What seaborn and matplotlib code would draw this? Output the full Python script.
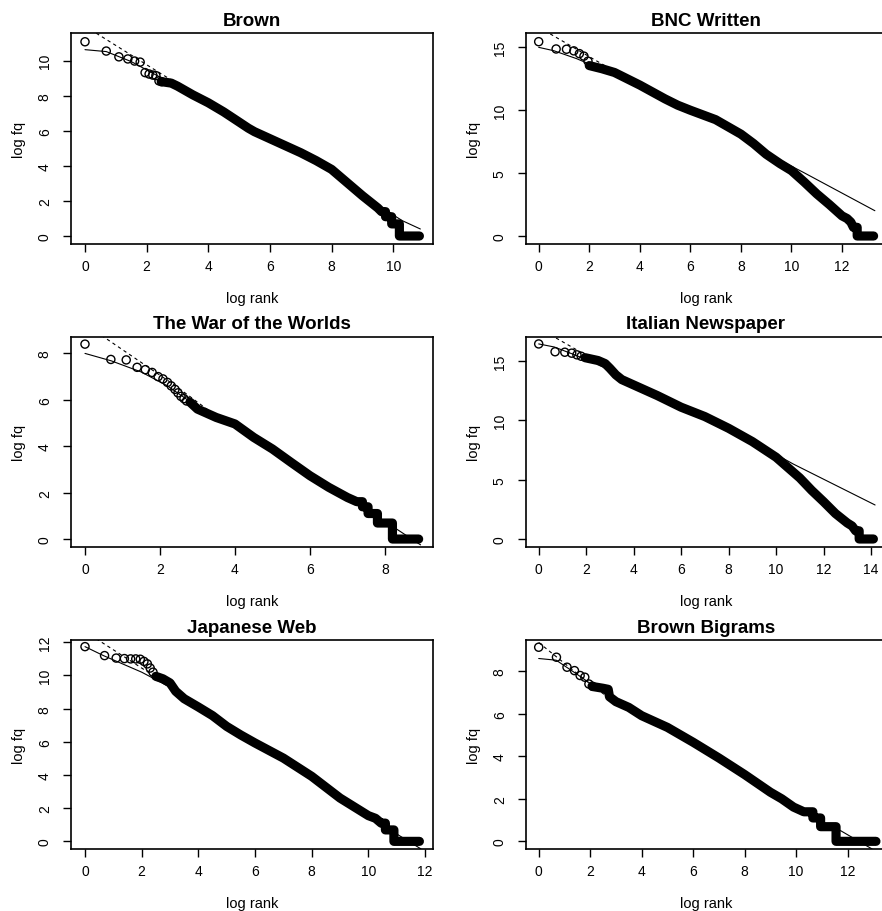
import matplotlib
matplotlib.use("Agg")
import matplotlib.pyplot as plt
import pandas as pd
import seaborn as sns

# ---------------- data (natural log rank vs natural log frequency) -------------
titles = ["Brown", "BNC Written", "The War of the Worlds",
          "Italian Newspaper", "Japanese Web", "Brown Bigrams"]

# Brown
brown_top_x = [0, 0.69, 1.10, 1.39, 1.61, 1.79, 1.95, 2.08, 2.20, 2.30, 2.40, 2.48]
brown_top_y = [11.08, 10.55, 10.22, 10.10, 9.98, 9.92, 9.32, 9.24, 9.18, 9.15, 8.85, 8.80]
brown_band_x = [2.5, 2.8, 3.0, 3.5, 4.0, 4.5, 5.0, 5.3, 5.5, 6.0, 6.5, 7.0, 7.5, 8.0, 8.5, 9.0,
                9.5, 9.62, 9.75, 9.75, 9.95, 9.95, 10.2, 10.2, 10.85]
brown_band_y = [8.8, 8.72, 8.55, 8.05, 7.6, 7.08, 6.5, 6.15, 5.95, 5.55, 5.15, 4.75, 4.3, 3.8, 3.05, 2.3,
                1.6, 1.39, 1.39, 1.10, 1.10, 0.69, 0.69, 0, 0]
brown_solid_x = [0, 0.69, 1.5, 2.5, 4, 6, 8, 9.5, 10.3, 10.88]
brown_solid_y = [10.63, 10.52, 9.95, 9.0, 7.6, 5.55, 3.75, 1.75, 0.87, 0.40]
brown_dash_x = [0, 2.3, 4.0]
brown_dash_y = [11.97, 9.44, 7.6]

# BNC Written
bnc_top_x = [0, 0.69, 1.10, 1.39, 1.61, 1.79, 1.95]
bnc_top_y = [15.45, 14.87, 14.85, 14.72, 14.5, 14.3, 13.9]
bnc_band_x = [2.0, 2.5, 3.0, 3.5, 4.0, 4.5, 5.0, 5.5, 6.0, 7.0, 8.0, 8.5, 9.0, 9.55, 10.0, 10.5,
              11.0, 11.5, 12.0, 12.2, 12.35, 12.45, 12.6, 12.6, 13.25]
bnc_band_y = [13.55, 13.3, 13.0, 12.5, 12.0, 11.45, 10.9, 10.4, 10.0, 9.25, 8.1, 7.35, 6.5, 5.75, 5.2, 4.3,
              3.35, 2.5, 1.6, 1.39, 1.10, 0.69, 0.69, 0, 0]
bnc_solid_x = [0, 0.6, 1.5, 2.5, 4, 6, 8, 9, 10.47, 13.3]
bnc_solid_y = [15.0, 14.73, 14.1, 13.25, 11.95, 10.0, 7.95, 6.6, 5.06, 2.01]
bnc_dash_x = [0, 2.6, 4.0]
bnc_dash_y = [16.6, 13.56, 12.0]

# The War of the Worlds
wotw_top_x = [0, 0.69, 1.10, 1.39, 1.61, 1.79, 1.95, 2.08, 2.20, 2.30, 2.40, 2.48, 2.56, 2.64, 2.71]
wotw_top_y = [8.4, 7.74, 7.72, 7.4, 7.3, 7.18, 7.0, 6.9, 6.75, 6.6, 6.45, 6.3, 6.15, 6.05, 5.95]
wotw_band_x = [2.8, 3.0, 3.5, 4.0, 4.5, 5.0, 5.5, 6.0, 6.5, 7.0, 7.25, 7.4, 7.4, 7.55, 7.55, 7.8,
               7.8, 8.2, 8.2, 8.9]
wotw_band_y = [5.9, 5.6, 5.24, 4.96, 4.38, 3.88, 3.3, 2.73, 2.23, 1.79, 1.61, 1.61, 1.39, 1.39, 1.10, 1.10,
               0.69, 0.69, 0, 0]
wotw_solid_x = [0, 0.7, 1.5, 2.2, 3, 4, 5, 6, 7, 8.18, 8.95]
wotw_solid_y = [8.0, 7.68, 7.2, 6.6, 5.7, 4.9, 3.9, 2.75, 1.75, 0.57, -0.25]
wotw_dash_x = [0, 2.4, 3.5]
wotw_dash_y = [9.26, 6.62, 5.3]

# Italian Newspaper
ital_top_x = [0, 0.69, 1.10, 1.39, 1.61, 1.79]
ital_top_y = [16.46, 15.8, 15.76, 15.68, 15.54, 15.42]
ital_band_x = [1.95, 2.5, 2.8, 3.0, 3.25, 3.5, 4.0, 5.0, 6.0, 7.0, 8.0, 9.0, 10.0, 11.0, 11.5, 12.0,
               12.5, 13.0, 13.2, 13.35, 13.5, 13.5, 14.1]
ital_band_y = [15.3, 15.06, 14.8, 14.4, 13.85, 13.45, 13.0, 12.1, 11.12, 10.33, 9.34, 8.22, 6.9, 5.15,
               4.1, 3.15, 2.15, 1.35, 1.10, 0.69, 0.69, 0, 0]
ital_solid_x = [0, 0.66, 1.5, 2.5, 3.5, 5, 7, 9, 10.72, 14.17]
ital_solid_y = [16.46, 16.2, 15.55, 14.75, 13.6, 12.1, 10.2, 8.25, 6.33, 2.87]
ital_dash_x = [0, 2.2, 3.0]
ital_dash_y = [17.8, 15.27, 14.4]

# Japanese Web
jap_top_x = [0, 0.69, 1.10, 1.39, 1.61, 1.79, 1.95, 2.08, 2.20, 2.30, 2.40]
jap_top_y = [11.74, 11.2, 11.05, 11.02, 11.0, 11.0, 10.98, 10.85, 10.7, 10.45, 10.2]
jap_band_x = [2.5, 2.75, 3.0, 3.2, 3.5, 4.0, 4.5, 5.0, 5.5, 6.0, 7.0, 8.0, 9.0, 10.0, 10.25, 10.45,
              10.6, 10.6, 10.9, 10.9, 11.8]
jap_band_y = [9.95, 9.8, 9.55, 9.05, 8.6, 8.1, 7.58, 6.93, 6.41, 5.93, 5.02, 3.92, 2.61, 1.55, 1.39, 1.10,
              1.10, 0.69, 0.69, 0, 0]
jap_solid_x = [0, 0.65, 2.0, 3.0, 4, 6, 8, 10, 11.1, 11.85]
jap_solid_y = [11.74, 11.2, 10.2, 9.3, 8.1, 5.95, 3.75, 1.55, 0.34, -0.45]
jap_dash_x = [0, 2.5, 3.5]
jap_dash_y = [12.65, 9.9, 8.6]

# Brown Bigrams
big_top_x = [0, 0.69, 1.10, 1.39, 1.61, 1.79, 1.95, 2.08]
big_top_y = [9.13, 8.66, 8.19, 8.03, 7.8, 7.72, 7.4, 7.3]
big_band_x = [2.1, 2.5, 2.7, 2.75, 3.0, 3.5, 4.0, 5.0, 6.0, 7.0, 8.0, 9.0, 9.44, 9.9, 10.3, 10.65,
              10.65, 10.95, 10.95, 11.55, 11.55, 13.1]
big_band_y = [7.28, 7.2, 7.15, 6.8, 6.57, 6.3, 5.91, 5.36, 4.66, 3.92, 3.14, 2.31, 2.0, 1.61, 1.39, 1.39,
              1.10, 1.10, 0.69, 0.69, 0, 0]
big_solid_x = [0, 0.68, 1.5, 2.5, 4, 6, 8, 10, 11.73, 12.95]
big_solid_y = [8.6, 8.52, 7.85, 7.0, 5.85, 4.6, 3.1, 1.5, 0.5, -0.36]
big_dash_x = [0, 2.0, 3.0]
big_dash_y = [9.35, 7.4, 6.5]

# tick values
brown_xticks, brown_yticks = [0, 2, 4, 6, 8, 10], [0, 2, 4, 6, 8, 10]
bnc_xticks, bnc_yticks = [0, 2, 4, 6, 8, 10, 12], [0, 5, 10, 15]
wotw_xticks, wotw_yticks = [0, 2, 4, 6, 8], [0, 2, 4, 6, 8]
ital_xticks, ital_yticks = [0, 2, 4, 6, 8, 10, 12, 14], [0, 5, 10, 15]
jap_xticks, jap_yticks = [0, 2, 4, 6, 8, 10, 12], [0, 2, 4, 6, 8, 10, 12]
big_xticks, big_yticks = [0, 2, 4, 6, 8, 10, 12], [0, 2, 4, 6, 8]

panels = [
    (brown_top_x, brown_top_y, brown_band_x, brown_band_y, brown_solid_x, brown_solid_y,
     brown_dash_x, brown_dash_y, brown_xticks, brown_yticks),
    (bnc_top_x, bnc_top_y, bnc_band_x, bnc_band_y, bnc_solid_x, bnc_solid_y,
     bnc_dash_x, bnc_dash_y, bnc_xticks, bnc_yticks),
    (wotw_top_x, wotw_top_y, wotw_band_x, wotw_band_y, wotw_solid_x, wotw_solid_y,
     wotw_dash_x, wotw_dash_y, wotw_xticks, wotw_yticks),
    (ital_top_x, ital_top_y, ital_band_x, ital_band_y, ital_solid_x, ital_solid_y,
     ital_dash_x, ital_dash_y, ital_xticks, ital_yticks),
    (jap_top_x, jap_top_y, jap_band_x, jap_band_y, jap_solid_x, jap_solid_y,
     jap_dash_x, jap_dash_y, jap_xticks, jap_yticks),
    (big_top_x, big_top_y, big_band_x, big_band_y, big_solid_x, big_solid_y,
     big_dash_x, big_dash_y, big_xticks, big_yticks),
]

# ---------------- layout (pixels) ----------------
W, H = 882, 912
boxes = [(71, 34, 433.3, 245), (526, 34, 886, 245),
         (71, 337.7, 433.3, 547.7), (526, 337.7, 886, 547.7),
         (71, 641, 433.3, 850), (526, 641, 886, 850)]
xlims = [(-0.454, 11.30), (-0.502, 13.74), (-0.373, 9.29),
         (-0.535, 14.63), (-0.494, 12.29), (-0.493, 13.49)]
ylims = [(-0.456, 11.58), (-0.636, 16.14), (-0.33, 8.72),
         (-0.65, 17.07), (-0.46, 12.14), (-0.36, 9.47)]

sns.set_style("white")
plt.rcParams["font.family"] = ["Liberation Sans", "DejaVu Sans"]
plt.rcParams["axes.edgecolor"] = "black"
plt.rcParams["axes.linewidth"] = 1.2
plt.rcParams["text.color"] = "black"
plt.rcParams["axes.labelcolor"] = "black"
plt.rcParams["axes.titlecolor"] = "black"

fig = plt.figure(figsize=(W / 100, H / 100), dpi=100)

for i, (title, p) in enumerate(zip(titles, panels)):
    tx, ty, bx, by, sx, sy, dx, dy, xt, yt = p
    l, t, r, b = boxes[i]
    ax = fig.add_axes([l / W, 1 - b / H, (r - l) / W, (b - t) / H])

    # dense part of the rank/frequency curve
    sns.lineplot(x=bx, y=by, ax=ax, sort=False, estimator=None, color="black",
                 lw=6.6, solid_capstyle="round", solid_joinstyle="round", zorder=2)
    # sparse top ranks as open circles
    sns.scatterplot(x=tx, y=ty, ax=ax, color="black", s=34, marker="o", zorder=2.5)
    coll = ax.collections[-1]
    coll.set_facecolor("none")
    coll.set_edgecolor("black")
    coll.set_linewidth(1.0)
    # fitted curves
    sns.lineplot(x=sx, y=sy, ax=ax, sort=False, estimator=None, color="black",
                 lw=0.8, zorder=3)
    sns.lineplot(x=dx, y=dy, ax=ax, sort=False, estimator=None, color="black",
                 lw=0.8, linestyle=(0, (3, 3)), zorder=3)

    ax.set_xlim(*xlims[i])
    ax.set_ylim(*ylims[i])
    ax.set_xticks(xt)
    ax.set_yticks(yt)
    ax.tick_params(axis="both", which="both", bottom=True, left=True, direction="out",
                   length=5.8, width=1.0, colors="black", labelsize=10)
    ax.tick_params(axis="x", pad=5)
    ax.tick_params(axis="y", pad=8)
    plt.setp(ax.get_yticklabels(), rotation=90, va="center")
    for s in ax.spines.values():
        s.set_visible(True)
        s.set_color("black")
        s.set_linewidth(1.2)

    ax.set_title(title, fontsize=13.5, fontweight="bold", pad=6, color="black")
    ax.set_xlabel("log rank", fontsize=10.5, color="black")
    ax.set_ylabel("log fq", fontsize=10.5, color="black")
    ax.xaxis.set_label_coords(0.5, -47 / (b - t))
    ax.yaxis.set_label_coords(-45 / (r - l), 0.5)

fig.savefig("out.png", dpi=100)
